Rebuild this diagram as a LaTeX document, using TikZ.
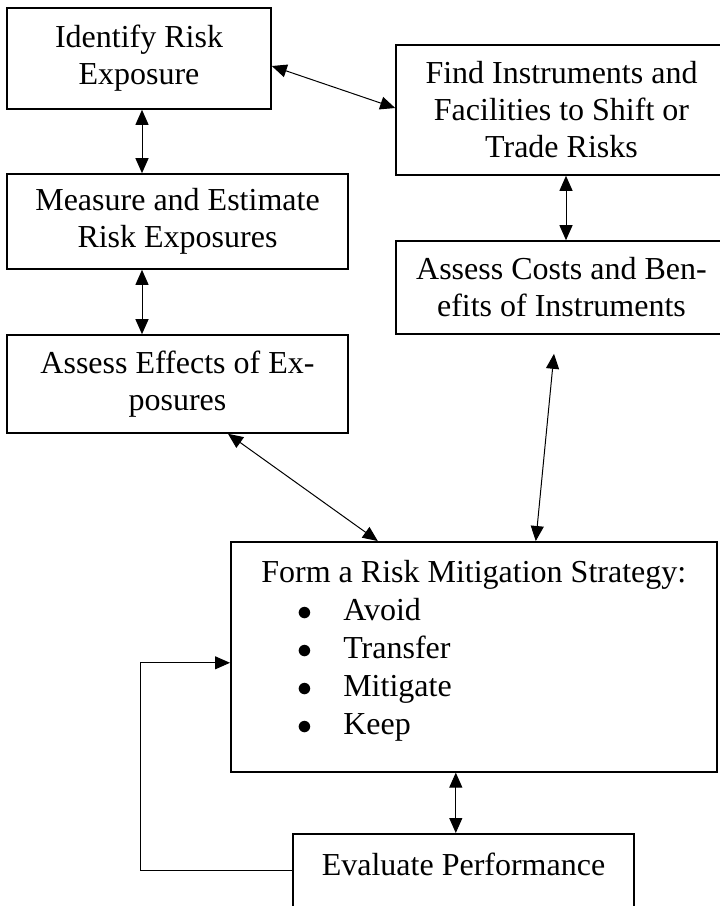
\documentclass[tikz,border=0pt]{standalone}
\usepackage{fontspec}
\setmainfont{Liberation Serif}
\usetikzlibrary{arrows.meta}

\begin{document}
\begin{tikzpicture}[x=1pt,y=-1pt,>={Triangle[length=15pt,width=13pt]},
  box/.style={draw,line width=1.6pt,inner sep=0pt,align=center,font=\fontsize{32}{37}\selectfont},
  link/.style={line width=1pt}]
\useasboundingbox (0,0) rectangle (720,906);\clip (0,0) rectangle (720,906);
\node[box,minimum width=264pt,minimum height=101pt] (ident) at (139,58.5){Identify Risk\\Exposure};
\node[box,minimum width=341pt,minimum height=95pt] (meas) at (177.5,221.5){Measure and Estimate\\Risk Exposures};
\node[box,minimum width=341pt,minimum height=98pt] (effects) at (177.5,384){Assess Effects of Ex-\\posures};
\node[box,minimum width=331pt,minimum height=130pt] (find) at (561.5,110){Find Instruments and\\Facilities to Shift or\\Trade Risks};
\node[box,minimum width=331pt,minimum height=93pt] (costs) at (561.5,287.5){Assess Costs and Ben-\\efits of Instruments};
\node[box,anchor=north west,minimum width=486pt,inner ysep=14pt,font=\fontsize{32}{38}\selectfont] (form) at (230,541){\begin{tabular}{@{}l@{}}Form a Risk Mitigation Strategy:\\
  \hspace*{36pt}\scalebox{1.2}{$\bullet$}\hspace*{31pt}Avoid\\
  \hspace*{36pt}\scalebox{1.2}{$\bullet$}\hspace*{31pt}Transfer\\
  \hspace*{36pt}\scalebox{1.2}{$\bullet$}\hspace*{31pt}Mitigate\\
  \hspace*{36pt}\scalebox{1.2}{$\bullet$}\hspace*{31pt}Keep\\[12pt]\end{tabular}};
\node[box,anchor=north,minimum width=341pt,inner ysep=20pt,text height=22pt,text depth=60pt] (eval) at (463.5,833){Evaluate Performance};
\draw[link,<->] ([yshift=-7.5pt]ident.east)--([yshift=2pt]find.west);
\draw[link,<->] ([xshift=3pt]ident.south)--([xshift=3pt]ident.south |- meas.north);
\draw[link,<->] ([xshift=-35.5pt]meas.south)--([xshift=-35.5pt]meas.south |- effects.north);
\draw[link,<->] ([xshift=4.5pt]find.south)--([xshift=4.5pt]costs.north);
\draw[link,<->] ([xshift=50.5pt]effects.south)--([xshift=-96pt]form.north);
\draw[link,<->] ([xshift=-7.5pt,yshift=-19pt]costs.south)--([xshift=62pt]form.north);
\draw[link,<->] ([xshift=-18pt]form.south)--([xshift=-18pt]form.south |- eval.north);
\draw[link,->] ([yshift=-37pt]eval.north west)--++(-152,0)|-([yshift=-6pt]form.west);
\end{tikzpicture}
\end{document}
